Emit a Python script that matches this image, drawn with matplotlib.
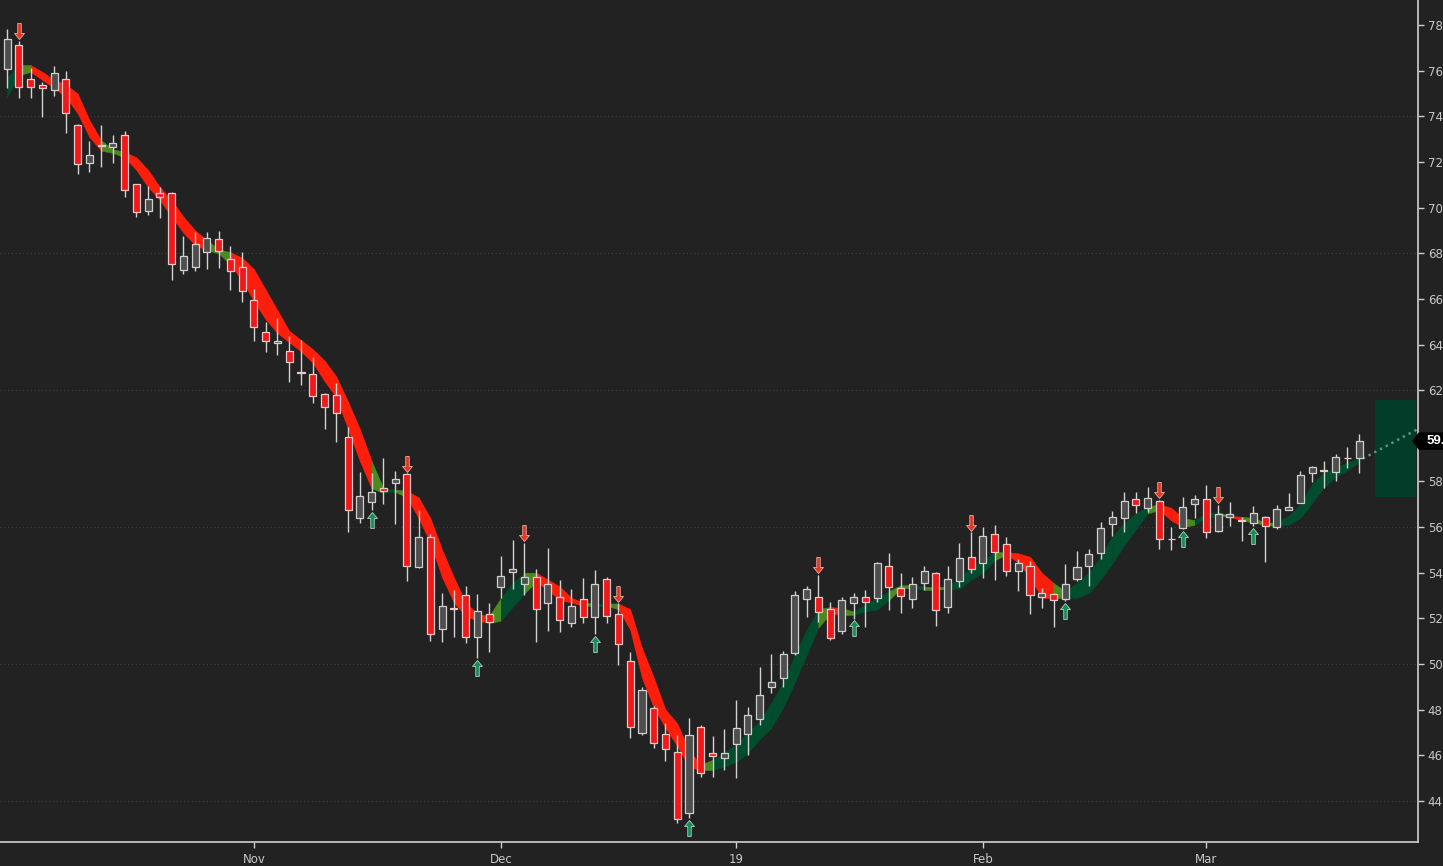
import matplotlib
matplotlib.use("Agg")
import matplotlib.pyplot as plt
from matplotlib.path import Path
from matplotlib.patches import Rectangle, Polygon

# ---------------- data ----------------
opens = [76.07, 77.12, 75.63, 75.37, 75.15, 75.63, 73.62, 71.95, 72.76, 72.65,
         73.18, 71.03, 69.85, 70.64, 70.64, 67.26, 67.4, 68.05, 68.62, 67.75,
         67.4, 65.95, 64.55, 64.06, 63.71, 62.78, 62.71, 61.83, 61.79, 59.95,
         56.4, 57.1, 57.71, 57.93, 58.32, 54.25, 55.56, 51.53, 52.47, 53.02,
         51.18, 52.19, 53.37, 54.03, 53.5, 53.81, 52.67, 52.93, 51.8, 52.85,
         52.06, 53.72, 52.19, 50.13, 46.97, 48.07, 46.93, 46.14, 43.47, 47.24,
         46.1, 45.88, 46.49, 46.93, 47.59, 49.0, 49.39, 50.48, 52.85, 52.93,
         52.41, 51.44, 52.67, 52.93, 52.89, 54.29, 53.33, 52.85, 53.55, 53.99,
         52.5, 53.64, 54.69, 54.42, 55.7, 55.26, 54.07, 54.29, 52.93, 53.07,
         52.85, 53.72, 54.29, 54.86, 56.13, 56.4, 57.23, 56.83, 57.14, 55.5,
         55.96, 57.01, 57.23, 55.83, 56.44, 56.31, 56.18, 56.44, 56.0, 56.75,
         57.05, 58.37, 58.52, 58.41, 59.05, 59.03]
highs = [77.82, 77.3, 76.12, 75.5, 76.2, 75.98, 73.66, 72.92, 73.62, 73.18,
         73.35, 71.05, 70.94, 70.9, 70.68, 68.75, 68.93, 68.93, 68.97, 68.32,
         68.05, 66.43, 64.99, 65.16, 64.37, 64.2, 63.45, 61.87, 62.31, 60.38,
         58.41, 58.37, 59.03, 58.46, 58.35, 56.75, 55.7, 53.11, 53.24, 53.42,
         53.07, 52.67, 54.73, 55.43, 55.3, 54.16, 55.08, 53.68, 53.28, 53.77,
         54.12, 53.81, 52.67, 50.52, 49.0, 48.16, 47.41, 46.89, 47.63, 47.32,
         46.84, 47.15, 48.42, 48.11, 49.87, 50.44, 50.57, 53.2, 53.42, 53.9,
         52.72, 52.93, 53.11, 53.24, 54.47, 54.86, 53.99, 53.81, 54.29, 54.03,
         54.29, 55.3, 55.78, 56.0, 56.09, 55.56, 54.6, 54.51, 53.33, 53.11,
         54.38, 54.95, 55.04, 56.22, 56.7, 57.54, 57.54, 57.76, 57.2, 56.0,
         57.32, 57.41, 57.85, 56.97, 57.1, 56.44, 56.92, 56.48, 56.97, 57.5,
         58.46, 58.67, 58.89, 59.2, 59.5, 60.08]
lows = [75.24, 74.8, 74.8, 73.97, 74.89, 73.27, 71.47, 71.56, 71.78, 71.95,
        70.46, 69.59, 69.67, 69.54, 66.83, 67.09, 67.22, 67.31, 67.35, 66.39,
        65.86, 64.15, 63.67, 63.54, 62.36, 62.22, 61.44, 60.3, 59.73, 55.78,
        56.18, 56.75, 57.0, 56.13, 53.63, 54.2, 51.0, 50.96, 51.18, 50.92,
        50.26, 50.52, 52.89, 53.28, 53.02, 50.96, 51.44, 51.4, 51.62, 51.8,
        51.3, 51.8, 49.95, 46.76, 46.9, 46.32, 45.75, 43.03, 43.25, 45.05,
        45.05, 45.35, 45.0, 46.01, 47.33, 48.73, 49.0, 50.39, 52.06, 51.84,
        51.05, 51.31, 51.98, 51.62, 52.72, 52.37, 52.23, 52.45, 53.24, 51.66,
        52.23, 53.37, 53.99, 53.77, 53.68, 53.85, 53.2, 52.19, 52.45, 51.62,
        52.75, 53.64, 53.42, 54.6, 55.61, 55.78, 56.62, 56.66, 55.04, 54.99,
        55.9, 56.4, 55.52, 55.8, 56.05, 55.39, 56.05, 54.47, 55.92, 56.75,
        57.05, 57.97, 57.71, 58.02, 58.59, 58.37]
closes = [77.39, 75.28, 75.28, 75.24, 75.9, 74.14, 71.91, 72.3, 72.72, 72.83,
          70.77, 69.8, 70.37, 70.46, 67.53, 67.88, 68.4, 68.67, 68.1, 67.22,
          66.34, 64.77, 64.15, 64.15, 63.23, 62.74, 61.74, 61.26, 61.0, 56.75,
          57.36, 57.54, 57.58, 58.1, 54.29, 55.56, 51.31, 52.54, 52.43, 51.18,
          52.32, 51.84, 53.85, 54.16, 53.81, 52.41, 53.5, 51.93, 52.54, 52.06,
          53.5, 52.1, 50.87, 47.24, 48.86, 46.54, 46.27, 43.21, 46.89, 45.22,
          45.97, 46.1, 47.19, 47.76, 48.64, 49.21, 50.44, 53.02, 53.28, 52.28,
          51.14, 52.8, 52.93, 52.72, 54.42, 53.37, 52.98, 53.5, 54.07, 52.37,
          53.72, 54.64, 54.16, 55.61, 54.91, 54.07, 54.42, 53.02, 53.11, 52.8,
          53.5, 54.25, 54.82, 55.96, 56.44, 57.14, 56.97, 57.27, 55.48, 55.46,
          56.88, 57.23, 55.78, 56.57, 56.57, 56.26, 56.62, 56.05, 56.79, 56.88,
          58.28, 58.63, 58.48, 59.07, 59.01, 59.77]

# trend ribbon: upper and lower edge, and trend state (+1 up / -1 down)
ribbon_upper = [75.7, 76.25, 76.25, 75.95, 75.6, 75.4, 75.0, 73.84, 72.96, 72.55,
                72.45, 72.2, 71.65, 70.9, 70.33, 69.6, 69.0, 68.58, 68.18, 68.05,
                67.8, 67.3, 66.4, 65.5, 64.6, 64.2, 63.8, 63.3, 62.6, 61.5,
                60.3, 58.9, 57.7, 57.65, 57.6, 57.3, 56.4, 55.0, 53.8, 52.7,
                52.2, 52.1, 52.9, 53.55, 54.0, 54.0, 53.7, 53.4, 52.9, 52.7,
                52.65, 52.65, 52.65, 52.4, 50.7, 49.4, 48.0, 47.4, 46.2, 45.6,
                45.8, 46.1, 46.5, 47.0, 47.5, 48.3, 49.2, 50.4, 51.5, 52.4,
                52.5, 52.45, 52.3, 52.6, 52.9, 53.2, 53.45, 53.45, 53.4, 53.35,
                53.4, 53.8, 54.25, 54.55, 54.9, 54.9, 54.85, 54.7, 54.0, 53.55,
                53.2, 53.55, 54.0, 54.7, 55.6, 56.2, 56.6, 56.9, 57.0, 56.85,
                56.4, 56.3, 56.6, 56.65, 56.5, 56.45, 56.4, 56.2, 56.2, 56.5,
                57.0, 57.9, 58.4, 58.6, 58.85, 59.0]
ribbon_lower = [74.85, 75.8, 75.95, 75.6, 75.25, 74.85, 74.14, 73.1, 72.5, 72.4,
                72.2, 71.65, 70.9, 70.33, 69.6, 68.9, 68.36, 68.14, 68.0, 67.5,
                66.8, 65.9, 65.1, 64.5, 64.1, 63.7, 63.2, 62.4, 61.7, 60.3,
                58.9, 57.7, 57.5, 57.55, 57.3, 56.4, 55.3, 53.8, 52.7, 52.1,
                51.9, 51.8, 51.9, 52.5, 53.1, 53.6, 53.25, 52.8, 52.7, 52.55,
                52.55, 52.55, 52.4, 51.5, 49.4, 48.1, 47.2, 46.4, 45.5, 45.35,
                45.35, 45.5, 45.7, 46.1, 46.7, 47.2, 48.1, 49.2, 50.4, 51.6,
                52.2, 52.15, 52.15, 52.3, 52.4, 52.8, 53.3, 53.35, 53.25, 53.25,
                53.3, 53.3, 53.7, 54.0, 54.55, 54.8, 54.45, 53.8, 52.9, 52.9,
                52.9, 52.9, 53.1, 53.7, 54.4, 55.2, 55.9, 56.6, 56.75, 56.3,
                56.0, 56.1, 56.4, 56.5, 56.45, 56.3, 56.2, 56.1, 56.05, 56.1,
                56.4, 57.05, 57.75, 58.2, 58.5, 58.85]
ribbon_trend = ([1, 1] + [-1] * 7 + [1] + [-1] * 8 + [1] + [-1] * 13 + [1, 1]
                + [-1] * 8 + [1] * 3 + [-1] * 5 + [1, 1] + [-1] * 8 + [1] * 10
                + [-1, -1] + [1] * 4 + [-1] + [1, 1] + [-1] + [1] * 5 + [-1] * 5
                + [1] * 8 + [-1] * 3 + [1] * 3 + [-1, -1] + [1] + [-1] + [1] * 8)

sell_signals = [1, 34, 44, 52, 69, 82, 98, 103]
buy_signals = [31, 40, 50, 58, 72, 90, 100, 106]

month_pos = [21, 42, 62, 83, 102]
month_labels = ["Nov", "Dec", "19", "Feb", "Mar"]

last_price = 59.77
projection_end = 60.3
zone_low, zone_high = 57.32, 61.57

# ---------------- drawing ----------------
BG = "#222222"
TXT = "#c8c8c8"
plt.rcParams["font.family"] = ["DejaVu Sans"]

fig = plt.figure(figsize=(14.43, 8.66), dpi=100, facecolor=BG)
ax = fig.add_axes([0, 24 / 866, 1418 / 1443, 842 / 866])
ax.set_facecolor(BG)

n = len(closes)
xs = list(range(n))

# horizontal grid
for g in [44, 50, 56, 62, 68, 74]:
    ax.axhline(g, color="#3a3a3a", lw=0.9, ls=(0, (1, 2)), zorder=0)

# ribbon
RED, GREEN, OLIVE = "#ff1e0c", "#024d2e", "#4a8a1e"
for i in range(n - 1):
    a, b = ribbon_trend[i], ribbon_trend[i + 1]
    if a != b:
        c = OLIVE
    elif a > 0:
        c = GREEN
    else:
        c = RED
    ax.fill_between([i, i + 1], [ribbon_lower[i], ribbon_lower[i + 1]],
                    [ribbon_upper[i], ribbon_upper[i + 1]],
                    color=c, lw=0.4, edgecolor=c, zorder=1)

# target zone & projection
ax.add_patch(Rectangle((116.35, zone_low), 3.45, zone_high - zone_low,
                       facecolor="#013d28", edgecolor="none", zorder=1))
ax.plot([n - 1 + 0.3, 120.0], [ribbon_upper[-1], projection_end],
        ls=(0, (1, 1.6)), color="#5f8f7c", lw=1.8, zorder=2)

# wicks
ax.vlines(xs, lows, highs, color="#d2d2d2", lw=1.0, zorder=2)

# bodies
for i in range(n):
    o, c = opens[i], closes[i]
    down = c < o
    fc = "#f01818" if down else "#4e4e4e"
    ec = "#e8c8c8" if down else "#cfcfcf"
    ax.bar(i, abs(c - o), bottom=min(o, c), width=0.6, color=fc,
           edgecolor=ec, linewidth=0.9, zorder=3)

# signal arrows
up_verts = [(0, 1), (0.62, 0.25), (0.22, 0.25), (0.22, -1), (-0.22, -1),
            (-0.22, 0.25), (-0.62, 0.25), (0, 1)]
codes = [Path.MOVETO] + [Path.LINETO] * 6 + [Path.CLOSEPOLY]
up_arrow = Path(up_verts, codes)
down_arrow = Path([(x, -y) for x, y in up_verts], codes)

ax.plot(sell_signals, [highs[i] + 0.42 for i in sell_signals], ls="none",
        marker=down_arrow, ms=11.5, mfc="#e8341e", mec="#e0b0a8", mew=0.6, zorder=4)
ax.plot(buy_signals, [lows[i] - 0.42 for i in buy_signals], ls="none",
        marker=up_arrow, ms=11.5, mfc="#178a5a", mec="#a8d4bf", mew=0.6, zorder=4)

# axes
ax.set_xlim(-0.6, 120.0)
ax.set_ylim(42.2, 79.1)
for s in ["top", "left"]:
    ax.spines[s].set_visible(False)
for s in ["right", "bottom"]:
    ax.spines[s].set_color("#d0d0d0")
    ax.spines[s].set_linewidth(1.2)

ax.yaxis.tick_right()
ytick_vals = [44 + 2 * k for k in range(18)]
ax.set_yticks(ytick_vals)
# the 60.0 label sits under the last-price tag in the reference
ax.set_yticklabels(["" if v == 60 else f"{v:.1f}" for v in ytick_vals])
ax.tick_params(axis="y", colors="#d0d0d0", labelcolor=TXT, length=4, width=1,
               pad=3, labelsize=8.5)
ax.set_xticks(month_pos)
ax.set_xticklabels(month_labels)
ax.tick_params(axis="x", colors="#d0d0d0", labelcolor=TXT, length=4, width=1,
               pad=4, labelsize=8.5)

# last price tag
h = 0.38
tag = Polygon([(0.9958, last_price), (1.0005, last_price + h), (1.04, last_price + h),
               (1.04, last_price - h), (1.0005, last_price - h)],
              closed=True, transform=ax.get_yaxis_transform(), facecolor="black",
              edgecolor="none", clip_on=False, zorder=6)
ax.add_patch(tag)
ax.text(1.0062, last_price, f"{last_price:.2f}", transform=ax.get_yaxis_transform(),
        ha="left", va="center", color="white", fontsize=9.5, fontweight="bold",
        family=["Liberation Sans", "DejaVu Sans"], clip_on=False, zorder=7)

fig.savefig("out.png", dpi=100, facecolor=BG)
